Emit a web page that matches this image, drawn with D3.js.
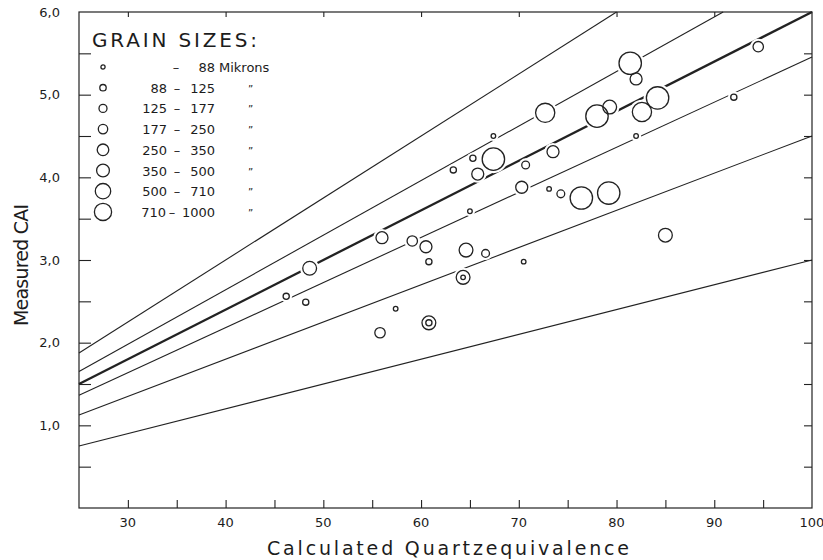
<!DOCTYPE html>
<html>
<head>
<script src="https://cdn.jsdelivr.net/npm/d3@7"></script>
<style>
  html, body { margin: 0; padding: 0; background: #fff; }
  text { font-family: "DejaVu Sans", sans-serif; fill: #1c1c1c; }
</style>
</head>
<body>
<script>
var width = 823, height = 560;
var margin = { left: 79, right: 11, top: 12, bottom: 52 };

// measured samples: quartz equivalence, CAI, grain size class (1..8)
var quartz = [46.2, 48.2, 48.6, 56.0, 55.8, 57.4, 59.1, 60.5, 60.8, 60.8, 60.8,
              63.3, 64.6, 64.3, 64.3, 65.0, 65.3, 65.8, 66.6, 67.4, 67.4,
              70.3, 70.5, 70.7, 72.7, 73.1, 73.5, 74.3, 76.4, 78.0, 79.3,
              79.2, 81.4, 82.0, 82.0, 82.6, 84.2, 85.0, 92.0, 94.5];
var cai    = [2.56, 2.49, 2.90, 3.27, 2.12, 2.41, 3.23, 3.16, 2.98, 2.24, 2.24,
              4.09, 3.12, 2.79, 2.79, 3.59, 4.23, 4.04, 3.08, 4.50, 4.22,
              3.88, 2.98, 4.15, 4.78, 3.86, 4.31, 3.80, 3.75, 4.74, 4.85,
              3.81, 5.38, 5.19, 4.50, 4.79, 4.96, 3.30, 4.97, 5.58];
var grain  = [2, 2, 6, 5, 4, 1, 4, 5, 2, 6, 2,
              2, 6, 6, 1, 1, 2, 5, 3, 1, 8,
              5, 1, 3, 7, 1, 5, 3, 8, 8, 6,
              8, 8, 5, 1, 7, 8, 6, 2, 4];

// reference lines CAI = 0.06 * QE * factor
var baseSlope = 0.06;
var lineFactors = [1.25, 1.1, 1, 1 / 1.1, 0.75, 0.5];

// legend
var sizeLow  = ["", "88", "125", "177", "250", "350", "500", "710"];
var sizeHigh = ["88", "125", "177", "250", "350", "500", "710", "1000"];

var xTicks = [30, 40, 50, 60, 70, 80, 90, 100];
var yTicks = [1, 2, 3, 4, 5, 6];
var yTickLabels = ["1,0", "2,0", "3,0", "4,0", "5,0", "6,0"];

var svg = d3.select("body").append("svg")
    .attr("width", width)
    .attr("height", height);

var x = d3.scaleLinear().domain([25, 100]).range([margin.left, width - margin.right]);
var y = d3.scaleLinear().domain([0, 6]).range([height - margin.bottom, margin.top]);

var dataR = d3.scaleOrdinal().domain([1, 2, 3, 4, 5, 6, 7, 8])
    .range([2.3, 3.1, 3.9, 5.2, 6.0, 6.9, 9.6, 11.2]);
var legendR = d3.scaleOrdinal().domain([1, 2, 3, 4, 5, 6, 7, 8])
    .range([2.1, 3.2, 4.0, 4.7, 5.8, 6.4, 7.7, 8.6]);

// frame
svg.append("rect")
    .attr("x", x(25)).attr("y", y(6))
    .attr("width", x(100) - x(25)).attr("height", y(0) - y(6))
    .attr("fill", "none").attr("stroke", "#222").attr("stroke-width", 1.2);

// axes with inward ticks
var fine = d3.range(0.5, 6, 0.5);
svg.append("g").attr("transform", "translate(" + x(25) + ",0)")
    .call(d3.axisRight(y).tickValues(fine).tickSize(12).tickFormat(""))
    .call(function (g) { g.select(".domain").remove(); });
svg.append("g").attr("transform", "translate(" + x(100) + ",0)")
    .call(d3.axisLeft(y).tickValues(fine).tickSize(8).tickFormat(""))
    .call(function (g) { g.select(".domain").remove(); });
svg.append("g").attr("transform", "translate(0," + y(0) + ")")
    .call(d3.axisTop(x).tickValues(d3.range(30, 100, 5)).tickSize(8).tickFormat(""))
    .call(function (g) { g.select(".domain").remove(); });
svg.append("g").attr("transform", "translate(0," + y(6) + ")")
    .call(d3.axisBottom(x).tickValues(d3.range(30, 100, 10)).tickSize(5).tickFormat(""))
    .call(function (g) { g.select(".domain").remove(); });
svg.selectAll(".tick line").attr("stroke", "#222").attr("stroke-width", 1.1);

// tick labels
svg.selectAll(".xlab").data(xTicks).enter().append("text")
    .attr("x", function (d) { return x(d); })
    .attr("y", 527)
    .attr("text-anchor", "middle")
    .style("font-size", "13px")
    .text(function (d) { return d; });

svg.selectAll(".ylab").data(yTicks).enter().append("text")
    .attr("x", 60)
    .attr("y", function (d) { return y(d); })
    .attr("dy", "0.35em")
    .attr("text-anchor", "end")
    .style("font-size", "13px")
    .text(function (d, i) { return yTickLabels[i]; });

// axis titles
svg.append("text")
    .attr("x", 448).attr("y", 555)
    .attr("text-anchor", "middle")
    .attr("textLength", 362)
    .style("font-size", "19px")
    .text("Calculated Quartzequivalence");

svg.append("text")
    .attr("transform", "translate(28,265) rotate(-90)")
    .attr("text-anchor", "middle")
    .attr("textLength", 122)
    .style("font-size", "19px")
    .text("Measured CAI");

// reference lines
svg.selectAll(".refline").data(lineFactors).enter().append("line")
    .attr("x1", x(25))
    .attr("y1", function (f) { return y(baseSlope * f * 25); })
    .attr("x2", function (f) { return x(Math.min(100, 6 / (baseSlope * f))); })
    .attr("y2", function (f) { return y(baseSlope * f * Math.min(100, 6 / (baseSlope * f))); })
    .attr("stroke", "#222")
    .attr("stroke-width", function (f) { return f === 1 ? 2.3 : 1.1; });

// samples: white halo first so lines break around circles
var pts = quartz.map(function (q, i) { return { q: q, c: cai[i], g: grain[i] }; });
svg.selectAll(".halo").data(pts).enter().append("circle")
    .attr("cx", function (d) { return x(d.q); })
    .attr("cy", function (d) { return y(d.c); })
    .attr("r", function (d) { return dataR(d.g) + 2.8; })
    .attr("fill", "#fff");
svg.selectAll(".pt").data(pts).enter().append("circle")
    .attr("cx", function (d) { return x(d.q); })
    .attr("cy", function (d) { return y(d.c); })
    .attr("r", function (d) { return dataR(d.g); })
    .attr("fill", "none")
    .attr("stroke", "#222")
    .attr("stroke-width", 1.3);

// legend
svg.append("text")
    .attr("x", 92).attr("y", 47)
    .attr("textLength", 165)
    .style("font-size", "20px")
    .text("GRAIN SIZES:");

var rows = svg.selectAll(".lrow").data(sizeHigh).enter().append("g")
    .attr("transform", function (d, i) { return "translate(0," + (67 + i * 20.7) + ")"; });
rows.append("circle")
    .attr("cx", 103).attr("cy", 0)
    .attr("r", function (d, i) { return legendR(i + 1); })
    .attr("fill", "none").attr("stroke", "#222").attr("stroke-width", 1.3);
rows.append("text")
    .attr("x", function (d, i) { return i === 7 ? 166 : 167; }).attr("y", 5)
    .attr("text-anchor", "end")
    .style("font-size", "13px")
    .text(function (d, i) { return sizeLow[i]; });
rows.append("text")
    .attr("x", function (d, i) { return i === 0 ? 176 : (i === 7 ? 172 : 177); }).attr("y", 5)
    .attr("text-anchor", "middle")
    .style("font-size", "13px")
    .text("–");
rows.append("text")
    .attr("x", 215).attr("y", 5)
    .attr("text-anchor", "end")
    .style("font-size", "13px")
    .text(function (d) { return d; });
rows.append("text")
    .attr("x", function (d, i) { return i === 0 ? 219 : 248; }).attr("y", 5)
    .style("font-size", function (d, i) { return i === 0 ? "13px" : "10px"; })
    .text(function (d, i) { return i === 0 ? "Mikrons" : "\u201D"; });
</script>
</body>
</html>
